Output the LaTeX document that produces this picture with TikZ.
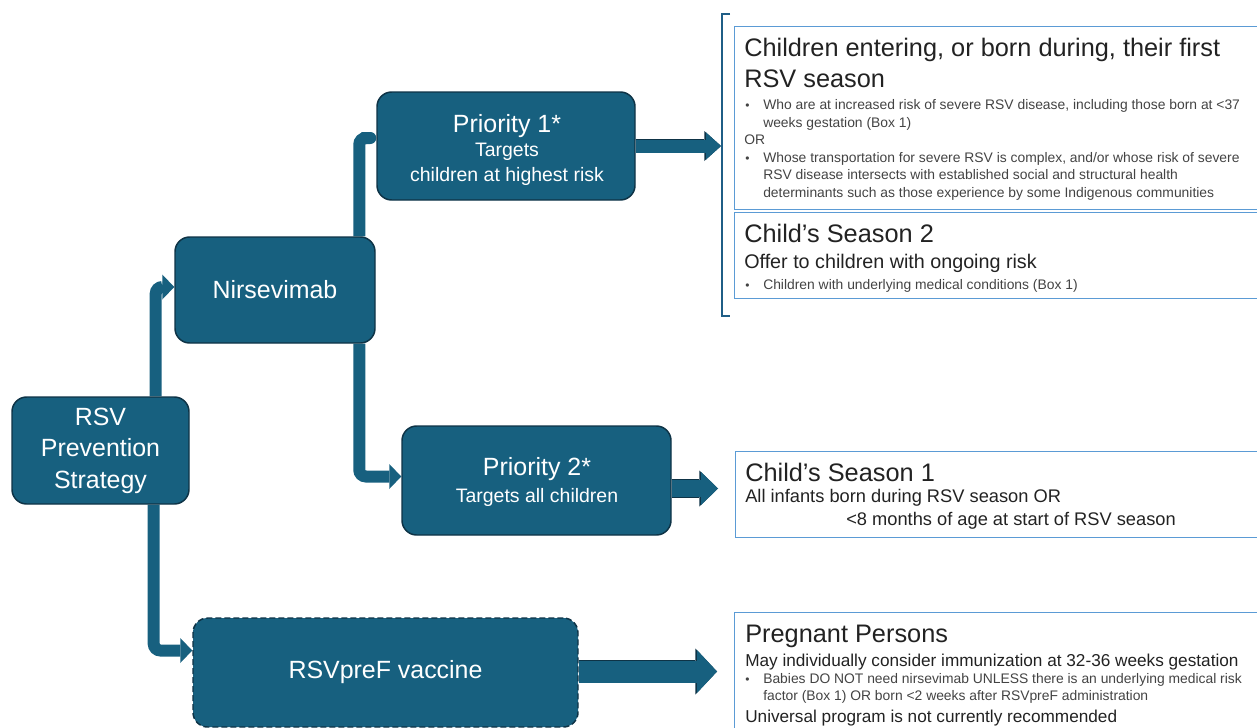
\documentclass[tikz,border=0pt]{standalone}
\usepackage{fontspec}
\setmainfont{Liberation Sans}
\usetikzlibrary{arrows.meta,calc,backgrounds}
\definecolor{tealbox}{HTML}{17607F}
\definecolor{tealdk}{HTML}{0E3346}
\definecolor{lblue}{HTML}{5B9BD5}
\definecolor{brk}{HTML}{1F5E86}
\definecolor{txt}{HTML}{222222}
\newcommand\fbig{\fontsize{18.7pt}{23.6pt}\selectfont}
\newcommand\fmid{\fontsize{14.6pt}{17pt}\selectfont}
\newcommand\fhead{\fontsize{19pt}{22pt}\selectfont}
\newcommand\fsub{\fontsize{14.8pt}{17pt}\selectfont}
\newcommand\fsubc{\fontsize{13.7pt}{16pt}\selectfont}
\newcommand\fsubd{\fontsize{12.9pt}{15pt}\selectfont}
\newcommand\fsmall{\fontsize{10.4pt}{12pt}\selectfont}
\begin{document}
\begin{tikzpicture}[x=0.75pt,y=-0.75pt,
  box/.style={draw=tealdk, line width=1.1pt, fill=tealbox, rounded corners=11pt,
    text=white, align=center, inner sep=0pt, font=\fbig},
  rbox/.style={draw=lblue, line width=1.1pt, rectangle, inner sep=0pt, anchor=north west,
    minimum width=396pt},
  wtxt/.style={text=white, inner sep=0pt, anchor=base},
  headtxt/.style={text=txt, inner sep=0pt, anchor=base west, font=\fhead},
  subtxt/.style={text=txt, inner sep=0pt, anchor=base west, font=\fsub},
  smalltxt/.style={text=txt!85, inner sep=0pt, anchor=base west, font=\fsmall},
  bul/.style={text=txt!85, inner sep=0pt, anchor=base west, font=\fontsize{9pt}{10pt}\selectfont},
  conn/.style={draw=tealbox, line width=9pt, rounded corners=5pt},
  ctip/.style={-{Triangle[length=9pt,width=18.75pt,line width=0pt]}}
]
\useasboundingbox (0,0) rectangle (1257,728);
\clip (0,0) rectangle (1257,728);

% ---- left boxes
\node[box, minimum width=132.75pt, minimum height=80.25pt] (rsv) at (100.5,450.5) {RSV\\Prevention\\Strategy};
\node[box, minimum width=150pt, minimum height=79.5pt] (nir) at (275,290) {Nirsevimab};
\node[box, minimum width=193.5pt, minimum height=81pt] (p1) at (506,146) {};
\node[wtxt, font=\fbig] (p1a) at (507,132) {Priority 1*};
\node[wtxt, font=\fmid] (p1b) at (507,156) {Targets};
\node[wtxt, font=\fmid] (p1c) at (507,181) {children at highest risk};
\node[box, minimum width=201.75pt, minimum height=81.75pt] (p2) at (536.5,480.5) {};
\node[wtxt, font=\fbig] (p2a) at (537,475) {Priority 2*};
\node[wtxt, font=\fmid] (p2b) at (537,502) {Targets all children};
\node[box, dash pattern=on 4.5pt off 2.25pt, minimum width=288.75pt, minimum height=81.75pt] (vac) at (385.5,672.5) {RSVpreF vaccine};

% ---- right boxes
\node[rbox, minimum height=137.25pt] (ba) at (734,26) {};
\node[rbox, minimum height=64.5pt] (bb) at (734,212) {};
\node[rbox, minimum height=64.5pt] (bc) at (735,451) {};
\node[rbox, minimum height=92.25pt] (bd) at (734,612) {};

% bracket
\coordinate (brtop) at (730,14);
\coordinate (brtl) at (722,14);
\coordinate (brbl) at (722,316);
\coordinate (brbot) at (730,316);
\coordinate (brmid) at (721,146);
\draw[brk, line width=1.5pt] (brtop) -- (brtl) -- (brbl) -- (brbot);

% box A text
\node[headtxt] (a1) at (744,56) {Children entering, or born during, their first};
\node[headtxt] (a2) at (744,87) {RSV season};
\node[bul] (a3b) at (745,109) {\textbullet};
\node[smalltxt] (a3) at (763,109) {Who are at increased risk of severe RSV disease, including those born at <37};
\node[smalltxt] (a4) at (763,127) {weeks gestation (Box 1)};
\node[smalltxt] (a5) at (744,144) {OR};
\node[bul] (a6b) at (745,162) {\textbullet};
\node[smalltxt] (a6) at (763,162) {Whose transportation for severe RSV is complex, and/or whose risk of severe};
\node[smalltxt] (a7) at (763,179) {RSV disease intersects with established social and structural health};
\node[smalltxt] (a8) at (763,197) {determinants such as those experience by some Indigenous communities};

% box B text
\node[headtxt] (b1) at (744,242) {Child’s Season 2};
\node[subtxt] (b2) at (744,268) {Offer to children with ongoing risk};
\node[bul] (b3b) at (745,289) {\textbullet};
\node[smalltxt] (b3) at (763,289) {Children with underlying medical conditions (Box 1)};

% box C text
\node[headtxt] (c1) at (745,481) {Child’s Season 1};
\node[subtxt, font=\fsubc] (c2) at (745,502) {All infants born during RSV season OR};
\node[subtxt, font=\fsubc] (c3) at (846,525) {<8 months of age at start of RSV season};

% box D text
\node[headtxt] (d1) at (745,642) {Pregnant Persons};
\node[subtxt, font=\fsubd] (d2) at (745,666) {May individually consider immunization at 32-36 weeks gestation};
\node[bul] (d3b) at (745,683) {\textbullet};
\node[smalltxt] (d3) at (763,683) {Babies DO NOT need nirsevimab UNLESS there is an underlying medical risk};
\node[smalltxt] (d4) at (763,700) {factor (Box 1) OR born <2 weeks after RSVpreF administration};
\node[subtxt, font=\fsubd] (d5) at (745,722) {Universal program is not currently recommended};

% ---- connectors
\begin{scope}[on background layer]
\draw[conn, ctip] ($(rsv.north east)+(-34,0)$) |- ($(nir.west)+(0,-3)$);
\draw[conn, -{Round Cap}] ($(nir.north west)+(185,0)$) |- ($(p1.west)+(0,-8)$);
\draw[conn, ctip] ($(nir.south west)+(185,0)$) |- ($(p2.west)+(0,-4)$);
\draw[conn, ctip] ($(rsv.south east)+(-36,0)$) |- ($(vac.west)+(0,-22)$);

% block arrows
\draw[tealbox, line width=9.75pt,
  -{Triangle[length=11.25pt,width=20.25pt,line width=0pt]},
  preaction={draw=tealdk, line width=11pt, -{Triangle[length=12.5pt,width=22.5pt,line width=0pt]}}]
  (p1.east) -- (brmid);
\coordinate (s2) at ($(p2.east)+(0,8)$);
\coordinate (t2) at ($(bc.west)+(-17,0)$);
\draw[tealbox, line width=12.75pt,
  -{Triangle[length=12.75pt,width=24.75pt,line width=0pt]},
  preaction={draw=tealdk, line width=14pt, -{Triangle[length=14pt,width=27pt,line width=0pt]}}]
  (s2) -- (s2 -| t2);
\coordinate (s3) at ($(vac.east)+(0,-1)$);
\coordinate (t3) at ($(bd.west)+(-17,0)$);
\draw[tealbox, line width=16.5pt,
  -{Triangle[length=15pt,width=32.25pt,line width=0pt]},
  preaction={draw=tealdk, line width=17.75pt, -{Triangle[length=16.25pt,width=34.5pt,line width=0pt]}}]
  (s3) -- (s3 -| t3);
\end{scope}
\end{tikzpicture}
\end{document}
